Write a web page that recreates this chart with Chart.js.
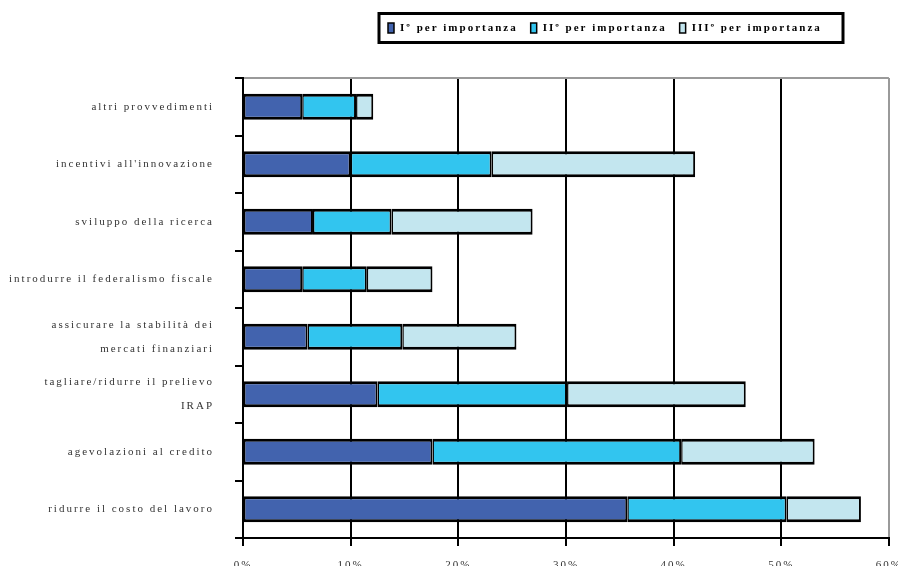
<!DOCTYPE html>
<html>
<head>
<meta charset="utf-8">
<script src="https://cdn.jsdelivr.net/npm/chart.js@4.4.1/dist/chart.umd.min.js"></script>
<style>
  html, body { margin: 0; padding: 0; background: #fff; overflow: hidden; }
  #wrap { position: relative; width: 915px; height: 580px; }
</style>
</head>
<body>
<div id="wrap"><canvas id="c"></canvas></div>
<script>
// ---- data (top to bottom) ----
const categories = [
  'altri provvedimenti',
  "incentivi all'innovazione",
  'sviluppo della ricerca',
  'introdurre il federalismo fiscale',
  ['assicurare la stabilità dei', 'mercati finanziari'],
  ['tagliare/ridurre il prelievo', 'IRAP'],
  'agevolazioni al credito',
  'ridurre il costo del lavoro'
];
const seriesNames = ['Iº per importanza', 'IIº per importanza', 'IIIº per importanza'];
const primo   = [5.5, 10.0, 6.5, 5.5, 6.0, 12.5, 17.6, 35.7];
const secondo = [5.0, 13.1, 7.3, 6.0, 8.8, 17.6, 23.1, 14.8];
const terzo   = [1.6, 18.9, 13.1, 6.1, 10.6, 16.6, 12.4, 6.9];
const xTicks  = [0, 10, 20, 30, 40, 50, 60];

const colors = ['#4263ae', '#32c5ef', '#c3e6ef'];
const SPACING = '2px';

const spacingPlugin = {
  id: 'spacing',
  beforeUpdate(chart) { chart.ctx.letterSpacing = SPACING; },
  beforeLayout(chart) { chart.ctx.letterSpacing = SPACING; },
  beforeDraw(chart) { chart.ctx.letterSpacing = SPACING; }
};

const legendPlugin = {
  id: 'boxLegend',
  afterDraw(chart) {
    const ctx = chart.ctx;
    ctx.save();
    ctx.letterSpacing = SPACING;
    ctx.lineWidth = 3;
    ctx.strokeStyle = '#000';
    ctx.strokeRect(379, 13.5, 464, 29);
    ctx.font = 'bold 11px "Liberation Serif", "Times New Roman", serif';
    ctx.textBaseline = 'middle';
    ctx.fillStyle = '#000';
    let x = 388;
    chart.data.datasets.forEach((ds, i) => {
      ctx.fillStyle = ds.backgroundColor;
      ctx.fillRect(x, 23, 6, 10);
      ctx.lineWidth = 1.5;
      ctx.strokeStyle = '#000';
      ctx.strokeRect(x, 23, 6, 10);
      ctx.fillStyle = '#000';
      ctx.fillText(ds.label, x + 12, 28.5);
      x += 12 + ctx.measureText(ds.label).width + 13;
    });
    ctx.restore();
  }
};

const series = [primo, secondo, terzo];
const datasets = series.map((vals, i) => ({
  label: seriesNames[i],
  data: vals,
  backgroundColor: colors[i],
  borderColor: '#000',
  borderWidth: { top: 3, bottom: 3, left: 1.5, right: 2 },
  borderSkipped: false,
  barPercentage: 0.45,
  categoryPercentage: 1.0
}));

new Chart(document.getElementById('c'), {
  type: 'bar',
  data: { labels: categories, datasets },
  plugins: [spacingPlugin, legendPlugin],
  options: {
    indexAxis: 'y',
    responsive: true,
    maintainAspectRatio: false,
    animation: false,
    layout: { padding: { top: 78, right: 0, bottom: 0, left: 0 } },
    plugins: { legend: { display: false }, tooltip: { enabled: false } },
    scales: {
      x: {
        stacked: true,
        min: 0, max: 60,
        afterBuildTicks(scale) { scale.ticks = xTicks.map(v => ({ value: v })); },
        afterFit(scale) { scale.height = 42; },
        ticks: {
          callback: v => v + '%',
          color: '#333',
          padding: 13,
          font: { family: '"Liberation Serif", "Times New Roman", serif', size: 11 },
          maxRotation: 0
        },
        grid: {
          color: c => (c.index === 6 ? '#9a9a9a' : '#000'),
          tickColor: '#000',
          lineWidth: 2,
          tickLength: 8
        },
        border: { color: '#000', width: 2 }
      },
      y: {
        stacked: true,
        afterFit(scale) { scale.width = 243; },
        ticks: {
          color: '#333',
          padding: 21,
          font: { family: '"Liberation Serif", "Times New Roman", serif', size: 11, lineHeight: 2.2 }
        },
        grid: {
          offset: true,
          color: c => (c.index === 0 ? '#9a9a9a' : 'rgba(0,0,0,0)'),
          tickColor: '#000',
          lineWidth: 2,
          tickLength: 8
        },
        border: { color: '#000', width: 2 }
      }
    }
  }
});
</script>
</body>
</html>
